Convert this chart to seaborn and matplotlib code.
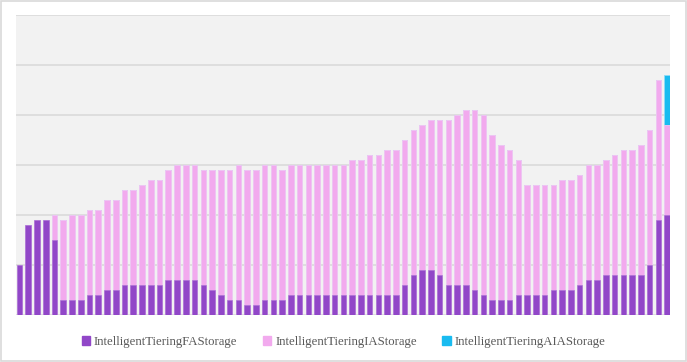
import numpy as np
import pandas as pd
import matplotlib.pyplot as plt
import matplotlib.patches as mpatches
import seaborn as sns

# bar positions (one per day)
days = [str(i) for i in range(1, 76)]

fa_storage = [10, 18, 19, 19, 15, 3, 3, 3, 4, 4, 5, 5, 6, 6, 6, 6, 6, 7, 7, 7,
              7, 6, 5, 4, 3, 3, 2, 2, 3, 3, 3, 4, 4, 4, 4, 4, 4, 4, 4, 4,
              4, 4, 4, 4, 6, 8, 9, 9, 8, 6, 6, 6, 5, 4, 3, 3, 3, 4, 4, 4,
              4, 5, 5, 5, 6, 7, 7, 8, 8, 8, 8, 8, 10, 19, 20]

totals_fa_ia = [10, 18, 19, 19, 20, 19, 20, 20, 21, 21, 23, 23, 25, 25, 26, 27, 27, 29, 30, 30,
                30, 29, 29, 29, 29, 30, 29, 29, 30, 30, 29, 30, 30, 30, 30, 30, 30, 30, 31, 31,
                32, 32, 33, 33, 35, 37, 38, 39, 39, 39, 40, 41, 41, 40, 36, 34, 33, 31, 26, 26,
                26, 26, 27, 27, 28, 30, 30, 31, 32, 33, 33, 34, 37, 47, 38]
ia_storage = [t - f for t, f in zip(totals_fa_ia, fa_storage)]

aia_storage = [0] * 74 + [10]

series_names = ['IntelligentTieringFAStorage', 'IntelligentTieringIAStorage',
                'IntelligentTieringAIAStorage']
colors = ['#9147c8', '#f2aaee', '#19bbf0']


def main():
    df = pd.DataFrame({'day': days, 'FA': fa_storage, 'IA': ia_storage, 'AIA': aia_storage})
    df['lvl1'] = df['FA']
    df['lvl2'] = df['FA'] + df['IA']
    df['lvl3'] = df['lvl2'] + df['AIA']

    sns.set_theme(style='white')
    plt.rcParams['font.family'] = ['Liberation Serif', 'DejaVu Serif']

    fig = plt.figure(figsize=(6.87, 3.62), dpi=100)
    ax = fig.add_axes([16 / 687, 47 / 362, 654 / 687, 300 / 362])
    ax.set_facecolor('#f2f2f2')

    # stacked bars drawn as overlapping cumulative totals
    sns.barplot(data=df, x='day', y='lvl3', color=colors[2], saturation=1,
                width=0.63, ax=ax, edgecolor='#8fdcf7', linewidth=0.6)
    sns.barplot(data=df, x='day', y='lvl2', color=colors[1], saturation=1,
                width=0.63, ax=ax, edgecolor='#f6c6f3', linewidth=0.6)
    sns.barplot(data=df, x='day', y='lvl1', color=colors[0], saturation=1,
                width=0.63, ax=ax, edgecolor='#a673d3', linewidth=0.4)

    ax.set_xlim(-0.4, 74.34)
    ax.set_ylim(0, 60)
    ax.set_yticks(np.arange(0, 61, 10))
    ax.yaxis.grid(True, color='#d9d9d9', linewidth=1.1)
    ax.set_axisbelow(True)
    ax.tick_params(length=0, labelleft=False, labelbottom=False)
    ax.set_xlabel('')
    ax.set_ylabel('')
    sns.despine(ax=ax, left=True, bottom=True, top=True, right=True)

    handles = [mpatches.Patch(color=c, label=n) for c, n in zip(colors, series_names)]
    fig.legend(handles=handles, loc='center', bbox_to_anchor=(0.5, 20 / 362), ncol=3,
               frameon=False, fontsize=9.2, labelcolor='#595959', handlelength=0.65,
               handleheight=0.65, handletextpad=0.3, columnspacing=2.0)

    # light border round the whole picture
    fig.patches.append(mpatches.Rectangle((0.002, 0.003), 0.996, 0.994, transform=fig.transFigure,
                                          fill=False, edgecolor='#d9d9d9', linewidth=1.2))

    fig.savefig('out.png', dpi=100, facecolor='white')


if __name__ == '__main__':
    main()
